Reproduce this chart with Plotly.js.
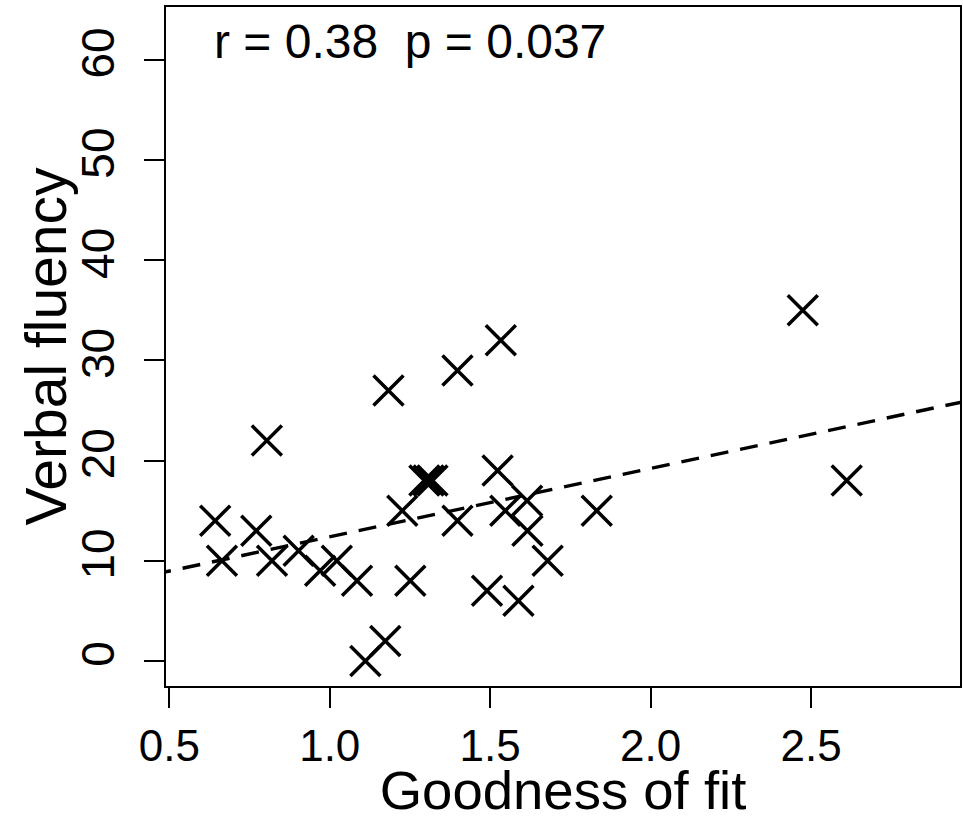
<!DOCTYPE html>
<html>
<head>
<meta charset="utf-8">
<script src="https://cdn.plot.ly/plotly-3.0.1.min.js"></script>
<style>html,body{margin:0;padding:0;background:#fff;}#chart{width:963px;height:821px;}</style>
</head>
<body>
<div id="chart"></div>
<script>
const goodnessOfFit = [0.804, 1.183, 1.398, 1.533, 0.643, 0.771, 0.664, 0.820, 0.903, 0.970,
                       1.022, 1.085, 1.251, 1.226, 1.295, 1.308, 1.320, 1.398, 1.111, 1.173,
                       1.523, 1.547, 1.490, 1.588, 2.474, 2.611, 1.832, 1.679, 1.616, 1.615];
const verbalFluency = [22, 27, 29, 32, 14, 13, 10, 10, 11, 9,
                       10, 8, 8, 15, 18, 18, 18, 14, 0, 2,
                       19, 15, 7, 6, 35, 18, 15, 10, 13, 16];
const fitLineX = [0.45, 3.0];
const fitLineY = [8.63, 26.05];
const xTickVals = [0.5, 1.0, 1.5, 2.0, 2.5];
const xTickText = ['0.5', '1.0', '1.5', '2.0', '2.5'];
const yTickVals = [0, 10, 20, 30, 40, 50, 60];
const yTickText = ['0', '10', '20', '30', '40', '50', '60'];
const xTitle = 'Goodness of fit';
const yTitle = 'Verbal fluency';
const statsLabel = 'r = 0.38 \u00a0p = 0.037';

const font = 'Liberation Sans, Arial, Helvetica, sans-serif';

const traces = [
  {
    x: fitLineX, y: fitLineY, type: 'scatter', mode: 'lines',
    line: {color: '#000', width: 3.4, dash: '18px,12px'},
    hoverinfo: 'skip', showlegend: false
  },
  {
    x: goodnessOfFit, y: verbalFluency, type: 'scatter', mode: 'markers',
    marker: {symbol: 'x-thin-open', size: 30, color: '#000', line: {color: '#000', width: 3.5}},
    showlegend: false
  }
];

const layout = {
  width: 963, height: 821,
  margin: {l: 166, r: 3, t: 7, b: 135},
  paper_bgcolor: '#fff', plot_bgcolor: '#fff',
  font: {family: font, color: '#000'},
  xaxis: {
    range: [0.4897, 2.964],
    tickvals: xTickVals, ticktext: xTickText,
    ticks: 'outside', ticklen: 20, tickwidth: 2, tickcolor: '#000',
    tickfont: {size: 44, family: font, color: '#000'},
    showline: true, mirror: true, linecolor: '#000', linewidth: 2,
    showgrid: false, zeroline: false,
    title: {text: xTitle, font: {size: 54.5, family: font, color: '#000'}, standoff: 10},
    automargin: false
  },
  yaxis: {
    range: [-2.5, 65.27],
    tickvals: yTickVals, ticktext: yTickText,
    ticks: 'outside', ticklen: 20, tickwidth: 2, tickcolor: '#000',
    tickangle: -90,
    ticklabelstandoff: 12,
    tickfont: {size: 46, family: font, color: '#000'},
    showline: true, mirror: true, linecolor: '#000', linewidth: 2,
    showgrid: false, zeroline: false,
    automargin: false
  },
  annotations: [
    {
      x: 1.25, y: 61.8, xref: 'x', yref: 'y',
      text: statsLabel, showarrow: false,
      xanchor: 'center', yanchor: 'middle',
      font: {size: 48, family: font, color: '#000'}
    },
    {
      x: -0.1523, y: 0.5, xref: 'paper', yref: 'paper',
      text: yTitle, showarrow: false, textangle: -90,
      xanchor: 'center', yanchor: 'middle',
      font: {size: 57, family: font, color: '#000'}
    }
  ]
};

Plotly.newPlot('chart', traces, layout, {displayModeBar: false, staticPlot: true});
</script>
</body>
</html>
